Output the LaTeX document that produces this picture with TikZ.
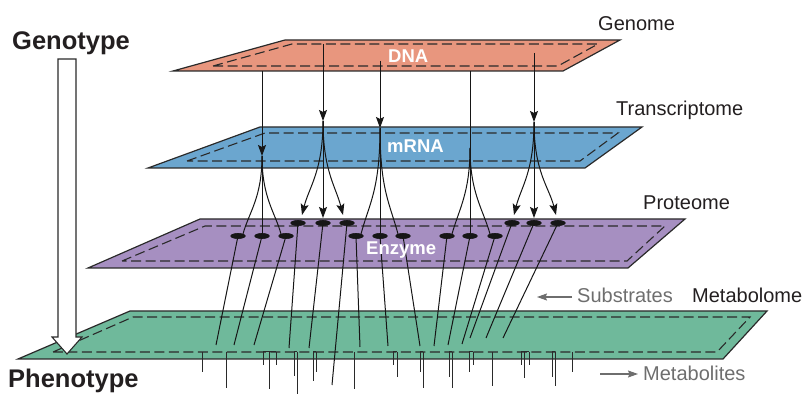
\documentclass[tikz,border=0pt]{standalone}
\usepackage{fontspec}
\setmainfont{Liberation Sans}
\usetikzlibrary{arrows.meta,calc,shapes.geometric}
\definecolor{dnac}{HTML}{E8967E}
\definecolor{rnac}{HTML}{6BA6CF}
\definecolor{protc}{HTML}{A68FC1}
\definecolor{metc}{HTML}{6FB99B}
\definecolor{olc}{HTML}{2A2A2A}
\definecolor{lnc}{HTML}{161616}
\definecolor{txtc}{HTML}{231F20}
\definecolor{grayc}{HTML}{6E6E6E}
\begin{document}
\begin{tikzpicture}[x=1pt,y=-1pt,
  plane/.style={draw=olc,line width=1.2pt,line join=miter},
  inner/.style={draw=olc,line width=1.1pt,dash pattern=on 10pt off 4.5pt},
  ln/.style={draw=lnc,line width=1pt},
  arr/.style={ln,-{Stealth[length=11pt,width=8pt,inset=2pt]}},
  mline/.style={draw=olc,line width=1pt},
  garr/.style={draw=grayc,line width=1.1pt,-{Stealth[length=10pt,width=7pt,inset=1.5pt]}},
  enz/.style={ellipse,fill=lnc,minimum width=15pt,minimum height=5.5pt,inner sep=0pt},
  lab/.style={font=\fontsize{20}{24}\selectfont,text=txtc,anchor=base west,inner sep=0pt},
  wlab/.style={font=\bfseries\fontsize{18.5}{22}\selectfont,text=white,anchor=base west,inner sep=0pt},
  big/.style={font=\bfseries\fontsize{25.5}{30}\selectfont,text=txtc,anchor=base west,inner sep=0pt}]
\useasboundingbox (0,0) rectangle (809,395);

% planes
\filldraw[plane,fill=dnac] (173,71) -- (285,40) -- (620,40) -- (563,71) -- cycle;
\draw[inner] (213,66) -- (292,44) -- (598,44) -- (558,66) -- cycle;
\filldraw[plane,fill=rnac] (148,168) -- (260,127) -- (642,127) -- (585,168) -- cycle;
\draw[inner] (187,161) -- (265,133) -- (618,133) -- (580,161) -- cycle;
\filldraw[plane,fill=protc] (88,268) -- (200,219) -- (685,219) -- (628,268) -- cycle;
\draw[inner] (122,261) -- (205,226) -- (665,226) -- (627,261) -- cycle;
\filldraw[plane,fill=metc] (18,359) -- (130,311) -- (767,311) -- (723,359) -- cycle;
\draw[inner] (53,352) -- (133,317) -- (750,317) -- (717,352) -- cycle;

% enzymes
\foreach \n/\x in {t1/298,t2/323,t3/347,t4/512,t5/534,t6/558}
  \node[enz] (\n) at (\x,223) {};
\foreach \n/\x in {b1/238,b2/262,b3/286,b4/356,b5/380,b6/403,b7/447,b8/470,b9/495}
  \node[enz] (\n) at (\x,236) {};

% gene coordinates
\coordinate (g1s) at (262,71);  \coordinate (g1) at (262,156);
\coordinate (g2s) at (323,44);  \coordinate (g2) at (323,121);
\coordinate (g3s) at (380,61);  \coordinate (g3) at (380,128);
\coordinate (g4s) at (470,71);  \coordinate (g4) at (470,148);
\coordinate (g5s) at (534,53);  \coordinate (g5) at (534,122);

% substrate end points
\foreach \n/\x/\y in {sb1/216/345,sb2/234/345,sb3/254/345,st1/289/348,st2/309/348,st3/332/385,
  sb4/360/347,sb5/388/346,sb6/420/346,sb7/434/346,sb8/448/345,sb9/462/344,st4/470/338,st5/486/338,st6/503/338}
  \coordinate (\n) at (\x,\y);

% substrate lines
\foreach \e/\s in {b1/sb1,b2/sb2,b3/sb3,t1/st1,t2/st2,t3/st3,b4/sb4,b5/sb5,b6/sb6,b7/sb7,b8/sb8,b9/sb9,t4/st4,t5/st5,t6/st6}
  \draw[ln] (\e.center) -- (\s);

% metabolite lines
\foreach \x/\yb [count=\i] in {202/372,226/388,263/365,269/389,276/365,294/376,297/394,313/381,316/372,354/389,
  393/365,397/377,420/372,423/388,449/377,452/388,469/372,473/365,492/386,521/365,524/378,529/365,552/377,555/386,572/372}
  {\coordinate (mt\i) at (\x,352); \coordinate (mb\i) at (\x,\yb); \draw[mline] (mt\i) -- (mb\i);}
\foreach \a/\b in {263/276,294/297,313/316,393/397,420/423,449/452,469/473,521/529,552/555}
  \draw[mline] (\a,352) -- (\b,352);

% gene 1 (no arrow fan)
\draw[arr] (g1s) -- (g1);
\draw[ln] (g1) -- (b2.center);
\draw[ln] (g1) .. controls +(0,42) and +(6,-22) .. ($(b1)+(5,-2)$);
\draw[ln] (g1) .. controls +(0,42) and +(-6,-22) .. ($(b3)+(-5,-2)$);
% gene 2 (arrow fan)
\draw[arr] (g2s) -- (g2);
\draw[arr] (g2) -- ($(t2)+(0,-5)$);
\draw[arr] (g2) .. controls +(0,50) and +(7,-28) .. ($(t1)+(4,-8)$);
\draw[arr] (g2) .. controls +(0,50) and +(-7,-28) .. ($(t3)+(-4,-8)$);
% gene 3
\draw[arr] (g3s) -- (g3);
\draw[ln] (g3) -- (b5.center);
\draw[ln] (g3) .. controls +(0,62) and +(8,-30) .. ($(b4)+(5,-2)$);
\draw[ln] (g3) .. controls +(0,62) and +(-8,-30) .. ($(b6)+(-5,-2)$);
% gene 4
\draw[ln] (g4s) -- (b8.center);
\draw[ln] (g4) .. controls +(0,45) and +(7,-25) .. ($(b7)+(5,-2)$);
\draw[ln] (g4) .. controls +(0,45) and +(-7,-25) .. ($(b9)+(-5,-2)$);
% gene 5
\draw[arr] (g5s) -- (g5);
\draw[arr] (g5) -- ($(t5)+(0,-5)$);
\draw[arr] (g5) .. controls +(0,50) and +(7,-28) .. ($(t4)+(2,-8)$);
\draw[arr] (g5) .. controls +(0,50) and +(-7,-28) .. ($(t6)+(-2,-8)$);

% redraw enzymes on top
\foreach \n/\x in {t1/298,t2/323,t3/347,t4/512,t5/534,t6/558}
  \fill[lnc] (\x,223) ellipse [x radius=7.5pt,y radius=2.8pt];
\foreach \n/\x in {b1/238,b2/262,b3/286,b4/356,b5/380,b6/403,b7/447,b8/470,b9/495}
  \fill[lnc] (\x,236) ellipse [x radius=7.5pt,y radius=2.8pt];

% white labels
\node[wlab] (dna) at (388,63) {DNA};
\node[wlab] (mrna) at (387,153) {mRNA};
\node[wlab] (enzyme) at (366,255) {Enzyme};

% side labels
\node[lab] (genome) at (598,31) {Genome};
\node[lab] (transcriptome) at (616,116) {Transcriptome};
\node[lab] (proteome) at (643,210) {Proteome};
\node[lab] (metabolome) at (692,303) {Metabolome};
\node[lab,text=grayc] (substrates) at (577,303) {Substrates};
\node[lab,text=grayc] (metabolites) at (643,381) {Metabolites};
\coordinate (sa1) at (572,297); \coordinate (sa2) at (537,297);
\draw[garr] (sa1) -- (sa2);
\coordinate (ma1) at (600,374); \coordinate (ma2) at (638,374);
\draw[garr] (ma1) -- (ma2);

% genotype -> phenotype
\node[big] (genotype) at (12,50) {Genotype};
\node[big] (phenotype) at (8,388) {Phenotype};
\filldraw[draw=olc,fill=white,line width=1.1pt,line join=miter]
  (58,59) -- (76,59) -- (76,337) -- (82,337) -- (67,354) -- (52,337) -- (58,337) -- cycle;
\end{tikzpicture}
\end{document}
